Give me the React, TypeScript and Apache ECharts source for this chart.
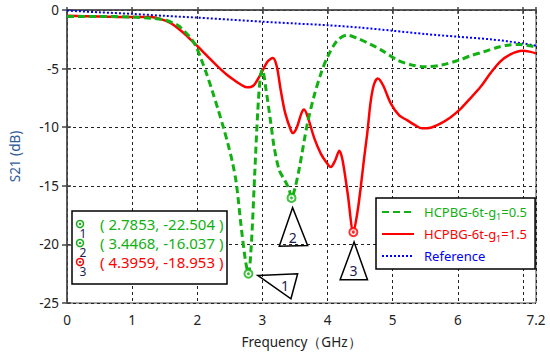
import React, { useEffect, useRef } from 'react';
import * as echarts from 'echarts';

// ---- data ----
const freqG = [0, 0.5, 1.0, 1.3, 1.5, 1.7, 1.8, 1.9, 1.98, 2.06, 2.14, 2.23, 2.32, 2.4, 2.47, 2.54, 2.6, 2.67, 2.74, 2.7853, 2.83, 2.88, 2.93, 2.97, 3.0, 3.05, 3.13, 3.18, 3.26, 3.34, 3.41, 3.4468, 3.5, 3.57, 3.69, 3.8, 3.9, 4.0, 4.15, 4.3, 4.45, 4.65, 4.82, 5.07, 5.3, 5.5, 5.75, 6.02, 6.2, 6.4, 6.6, 6.76, 6.95, 7.1, 7.2];
const valG = [-0.55, -0.55, -0.6, -0.7, -0.85, -1.3, -1.8, -2.4, -3.1, -4.2, -5.4, -6.9, -8.5, -10.0, -11.4, -13.0, -14.8, -18.3, -21.4, -22.504, -20.0, -14.2, -8.5, -5.6, -5.1, -6.6, -9.7, -11.7, -13.7, -14.5, -15.3, -16.037, -15.2, -13.4, -9.7, -7.2, -5.4, -4.0, -2.6, -2.15, -2.4, -2.9, -3.4, -4.27, -4.7, -4.85, -4.7, -4.27, -3.9, -3.56, -3.2, -3.0, -2.95, -3.05, -3.15];

const freqR = [0, 0.5, 1.0, 1.29, 1.45, 1.6, 1.8, 1.93, 2.06, 2.2, 2.32, 2.45, 2.57, 2.68, 2.77, 2.87, 2.98, 3.08, 3.16, 3.22, 3.28, 3.35, 3.44, 3.47, 3.53, 3.6, 3.64, 3.7, 3.8, 3.9, 3.97, 4.05, 4.12, 4.18, 4.23, 4.31, 4.3959, 4.46, 4.51, 4.56, 4.61, 4.66, 4.71, 4.77, 4.85, 4.97, 5.1, 5.22, 5.35, 5.45, 5.58, 5.73, 5.88, 6.02, 6.18, 6.35, 6.5, 6.65, 6.8, 6.99, 7.1, 7.2];
const valR = [-0.5, -0.55, -0.6, -0.6, -0.8, -1.14, -2.0, -2.7, -3.4, -4.2, -4.85, -5.5, -6.0, -6.4, -6.6, -6.4, -5.4, -4.4, -4.1, -4.8, -6.8, -8.8, -10.3, -10.5, -10.0, -8.8, -8.5, -9.2, -11.0, -12.3, -12.9, -13.4, -12.8, -12.0, -12.8, -15.7, -18.953, -17.2, -15.1, -12.7, -10.5, -7.9, -6.4, -5.85, -6.4, -7.97, -9.0, -9.4, -9.85, -10.1, -10.05, -9.7, -9.2, -8.55, -7.6, -6.55, -5.4, -4.4, -3.8, -3.48, -3.55, -3.7];

const freqB = [0, 0.5, 1.0, 1.5, 2.0, 2.5, 3.0, 3.5, 4.0, 4.5, 5.0, 5.5, 6.0, 6.5, 7.0, 7.2];
const valB = [-0.05, -0.2, -0.33, -0.5, -0.65, -0.82, -1.0, -1.15, -1.3, -1.5, -1.77, -2.05, -2.28, -2.5, -2.85, -3.05];

const xTickLabels = [0, 1, 2, 3, 4, 5, 6, 7.2];
const xTicks = [0, 1, 2, 3, 4, 5, 6, 7, 7.2];

const markerNums = ['1', '2', '3'];
const markerFreq = [2.7853, 3.4468, 4.3959];
const markerVal = [-22.504, -16.037, -18.953];
const markerSeriesIdx = [0, 0, 1];

// triangle pointers (data coords), one per marker
const triPoints = [
  [[2.928, -22.65], [3.541, -22.5], [3.438, -24.64]],
  [[3.464, -16.86], [3.259, -20.15], [3.694, -20.09]],
  [[4.407, -19.8], [4.193, -23.02], [4.613, -23.02]],
];
const triLabelPos = [[3.346, -23.5], [3.464, -19.4], [4.398, -22.2]];

const names = ['HCPBG-6t-g1=0.5', 'HCPBG-6t-g1=1.5', 'Reference'];
const GREEN = '#12b012';
const RED = '#ff0000';
const BLUE = '#0000ff';
const colors = [GREEN, RED, BLUE];
const NAVY = '#1c1c50';
const FONT = 'Noto Sans';

const pairs = (f: number[], v: number[]) => f.map((x, i) => [x, v[i]]);

export default function App() {
  const ref = useRef<HTMLDivElement>(null);
  useEffect(() => {
    const chart = echarts.init(ref.current!, null, { renderer: 'svg' });
    const axisLabel = { color: '#222', fontFamily: FONT, fontSize: 13.5 };
    const option: any = {
      animation: false,
      backgroundColor: '#fff',
      grid: { left: 65.5, right: 14, top: 10, bottom: 54, show: true, borderColor: '#444', borderWidth: 1, backgroundColor: 'transparent' },
      xAxis: [
        {
          type: 'value', min: 0, max: 7.2, interval: 1,
          name: 'Frequency（GHz）', nameLocation: 'middle', nameGap: 32,
          nameTextStyle: { color: '#222', fontFamily: FONT, fontSize: 13.5 },
          axisLine: { show: true, lineStyle: { color: '#444', width: 1.5 } },
          axisTick: { show: true, length: 4, customValues: xTicks, lineStyle: { color: '#444', width: 1.5 } },
          axisLabel: { ...axisLabel, margin: 10, customValues: xTickLabels, formatter: (v: number) => String(v) },
          splitLine: { show: true, lineStyle: { color: '#222', type: [3, 3], width: 1 } },
        },
        {
          type: 'value', min: 0, max: 7.2, interval: 1, position: 'bottom',
          axisLine: { show: false },
          axisTick: { show: true, inside: true, length: 3, customValues: xTicks, lineStyle: { color: '#444', width: 1.5 } },
          axisLabel: { show: false }, splitLine: { show: false },
        },
      ],
      yAxis: [
        {
          type: 'value', min: -25, max: 0, interval: 5,
          name: 'S21 (dB)', nameLocation: 'middle', nameGap: 45,
          nameTextStyle: { color: '#2e5c9a', fontFamily: FONT, fontSize: 13.5 },
          axisLine: { show: true, lineStyle: { color: '#444', width: 1.5 } },
          axisTick: { show: true, length: 5, lineStyle: { color: '#444', width: 1.5 } },
          axisLabel: { ...axisLabel, margin: 8 },
          splitLine: { show: true, lineStyle: { color: '#222', type: [3, 3], width: 1 } },
        },
        {
          type: 'value', min: -25, max: 0, interval: 5, position: 'left',
          axisLine: { show: false },
          axisTick: { show: true, inside: true, length: 4, lineStyle: { color: '#444', width: 1.5 } },
          axisLabel: { show: false }, splitLine: { show: false },
        },
      ],
      legend: {
        orient: 'vertical', left: 376, top: 198, padding: [5, 8, 4, 5],
        itemWidth: 32, itemHeight: 14, itemGap: 4,
        backgroundColor: '#fff', borderColor: '#000', borderWidth: 1.5,
        itemStyle: { opacity: 0 },
        data: names,
        formatter: (name: string) => {
          if (name === names[0]) return '{gA|HCPBG-6t-g}{gs|1}{g|=0.5}';
          if (name === names[1]) return '{rA|HCPBG-6t-g}{rs|1}{r|=1.5}';
          return '{bA|Reference}';
        },
        textStyle: {
          fontFamily: FONT, fontSize: 13, lineHeight: 18,
          rich: {
            gA: { color: GREEN, fontFamily: FONT, fontSize: 13, lineHeight: 18, padding: [0, 0, 0, 5] },
            g: { color: GREEN, fontFamily: FONT, fontSize: 13, lineHeight: 18 },
            gs: { color: GREEN, fontFamily: FONT, fontSize: 9, lineHeight: 10, verticalAlign: 'bottom' },
            rA: { color: RED, fontFamily: FONT, fontSize: 13, lineHeight: 18, padding: [0, 0, 0, 5] },
            r: { color: RED, fontFamily: FONT, fontSize: 13, lineHeight: 18 },
            rs: { color: RED, fontFamily: FONT, fontSize: 9, lineHeight: 10, verticalAlign: 'bottom' },
            bA: { color: BLUE, fontFamily: FONT, fontSize: 13, lineHeight: 18, padding: [0, 0, 0, 5] },
          },
        },
      },
      series: [
        {
          name: names[0], type: 'line', data: pairs(freqG, valG), smooth: 0.3, symbol: 'none', z: 4,
          lineStyle: { color: GREEN, width: 3, type: [7, 4] }, itemStyle: { color: GREEN },
        },
        {
          name: names[1], type: 'line', data: pairs(freqR, valR), smooth: 0.3, symbol: 'none', z: 3,
          lineStyle: { color: RED, width: 2.5, type: 'solid' }, itemStyle: { color: RED },
        },
        {
          name: names[2], type: 'line', data: pairs(freqB, valB), smooth: 0.3, symbol: 'none', z: 2,
          lineStyle: { color: BLUE, width: 2, type: [2, 2] }, itemStyle: { color: BLUE },
        },
        {
          name: 'markers', type: 'scatter', symbol: 'emptyCircle', symbolSize: 8, z: 6,
          data: markerFreq.map((f, i) => ({ value: [f, markerVal[i]], itemStyle: { color: colors[markerSeriesIdx[i]], borderWidth: 1.5 } })),
        },
        {
          name: 'markerDots', type: 'scatter', symbol: 'circle', symbolSize: 3, z: 7,
          data: markerFreq.map((f, i) => ({ value: [f, markerVal[i]], itemStyle: { color: colors[markerSeriesIdx[i]] } })),
        },
      ],
    };
    chart.setOption(option);

    const toPx = (p: number[]) => chart.convertToPixel({ gridIndex: 0 }, p) as number[];
    const graphics: any[] = [];
    triPoints.forEach((tri, i) => {
      graphics.push({
        type: 'polygon', z: 50,
        shape: { points: tri.map(toPx) },
        style: { fill: 'rgba(255,255,255,0)', stroke: '#000', lineWidth: 1.5 },
      });
      const lp = toPx(triLabelPos[i]);
      graphics.push({
        type: 'text', z: 51, x: lp[0], y: lp[1],
        style: { text: markerNums[i], fill: NAVY, font: `14px "${FONT}"`, textAlign: 'center', textVerticalAlign: 'middle' },
      });
    });
    // marker readout box
    const bx = 72, by = 211, rowH = 19;
    graphics.push({
      type: 'rect', z: 60, shape: { x: bx, y: by, width: 155, height: 73 },
      style: { fill: '#fff', stroke: '#000', lineWidth: 1.5 },
    });
    markerFreq.forEach((f, i) => {
      const c = colors[markerSeriesIdx[i]];
      const cy = by + 13 + rowH * i;
      graphics.push({ type: 'circle', z: 61, shape: { cx: bx + 8, cy, r: 3.5 }, style: { fill: 'none', stroke: c, lineWidth: 1.5 } });
      graphics.push({ type: 'circle', z: 61, shape: { cx: bx + 8, cy, r: 1.2 }, style: { fill: c } });
      graphics.push({
        type: 'text', z: 62, x: bx + 11, y: cy + 9,
        style: { text: markerNums[i], fill: NAVY, font: `12px "${FONT}"`, textAlign: 'center', textVerticalAlign: 'middle' },
      });
      graphics.push({
        type: 'text', z: 62, x: bx + 28, y: cy,
        style: { text: `( ${f.toFixed(4)}, ${markerVal[i].toFixed(3)} )`, fill: c, font: `15px "${FONT}"`, textAlign: 'left', textVerticalAlign: 'middle' },
      });
    });
    chart.setOption({ graphic: graphics });

    return () => chart.dispose();
  }, []);
  return <div ref={ref} style={{ position: 'fixed', left: 0, top: 0, width: 550, height: 357 }} />;
}
